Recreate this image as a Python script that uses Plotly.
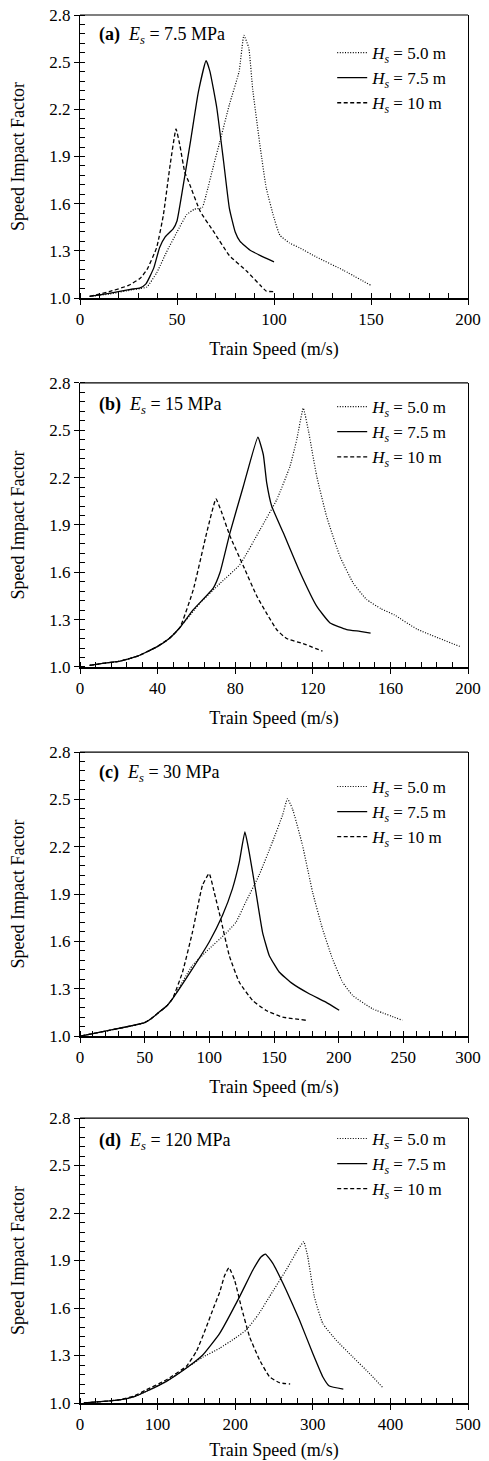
import plotly.graph_objects as go

# ---------------- data ----------------
# (a) Es = 7.5 MPa
a_x_h50 = [5, 15, 26, 31, 34.5, 39.5, 44.5, 50, 55, 59, 63, 65, 69, 72, 77, 82, 84.5, 87, 89, 93, 96, 100, 103, 108, 113, 122, 136, 150]
a_y_h50 = [1.01, 1.025, 1.05, 1.06, 1.07, 1.16, 1.29, 1.42, 1.53, 1.565, 1.575, 1.655, 1.85, 1.99, 2.23, 2.44, 2.67, 2.59, 2.33, 1.95, 1.70, 1.51, 1.40, 1.35, 1.32, 1.26, 1.175, 1.08]
a_x_h75 = [5, 15, 26, 31, 34, 38, 41, 44, 48, 50, 53, 57, 61, 65, 67, 70.5, 74, 77, 80, 82.5, 87.5, 93, 100]
a_y_h75 = [1.01, 1.03, 1.055, 1.065, 1.09, 1.19, 1.32, 1.39, 1.44, 1.49, 1.70, 2.00, 2.31, 2.51, 2.44, 2.21, 1.87, 1.57, 1.42, 1.36, 1.305, 1.27, 1.23]
a_x_h10 = [5, 15, 25, 31, 34.5, 39.5, 43, 46.5, 49.5, 51.5, 54, 56, 62, 69, 77, 86, 93, 96, 100]
a_y_h10 = [1.01, 1.04, 1.08, 1.125, 1.18, 1.32, 1.53, 1.85, 2.075, 1.97, 1.80, 1.74, 1.55, 1.42, 1.27, 1.17, 1.08, 1.044, 1.04]

# (b) Es = 15 MPa
b_x_h50 = [5, 10, 20, 30, 40, 46, 51.5, 61.9, 72.2, 82.5, 92.8, 101.4, 108.2, 111.7, 115.1, 117.7, 122, 127.1, 134, 140.9, 147.8, 155, 162, 173.7, 195.7]
b_y_h50 = [1.01, 1.02, 1.035, 1.07, 1.13, 1.18, 1.25, 1.405, 1.53, 1.65, 1.87, 2.06, 2.27, 2.44, 2.64, 2.50, 2.21, 1.955, 1.70, 1.53, 1.427, 1.37, 1.33, 1.24, 1.13]
b_x_h75 = [5, 10, 20, 30, 40, 46, 51.5, 58.4, 68.7, 72.2, 77.3, 84.2, 91.7, 94.5, 96.2, 98.8, 104.8, 113.4, 122, 128.9, 137.5, 144.3, 149.8]
b_y_h75 = [1.01, 1.02, 1.035, 1.07, 1.13, 1.18, 1.25, 1.363, 1.50, 1.60, 1.85, 2.145, 2.456, 2.345, 2.17, 2.02, 1.85, 1.60, 1.385, 1.279, 1.237, 1.226, 1.215]
b_x_h10 = [5, 10, 20, 30, 40, 46, 51.5, 58.4, 65.3, 70.1, 73, 77.3, 84.2, 91.1, 96.2, 101.4, 106.5, 115, 125]
b_y_h10 = [1.01, 1.02, 1.035, 1.07, 1.13, 1.18, 1.25, 1.49, 1.85, 2.065, 1.98, 1.83, 1.64, 1.45, 1.34, 1.236, 1.18, 1.148, 1.10]

# (c) Es = 30 MPa
c_x_h50 = [1, 10, 25, 40, 50, 55, 61, 67, 71.6, 87, 99.9, 112.7, 120.5, 128.2, 138.5, 148.8, 156.6, 160.4, 164.3, 172, 179.8, 187.5, 195.2, 203, 210.7, 226.1, 249.3]
c_y_h50 = [1.0, 1.015, 1.04, 1.065, 1.085, 1.11, 1.15, 1.19, 1.237, 1.448, 1.553, 1.65, 1.72, 1.85, 2.02, 2.23, 2.40, 2.504, 2.44, 2.21, 1.913, 1.68, 1.49, 1.342, 1.258, 1.173, 1.10]
c_x_h75 = [1, 10, 25, 40, 50, 55, 61, 67, 71.6, 87, 99.9, 110.2, 117.9, 123.1, 127.5, 130.8, 136, 141.1, 146.3, 154, 164.3, 177.2, 190.1, 200.4]
c_y_h75 = [1.0, 1.015, 1.04, 1.065, 1.085, 1.11, 1.15, 1.19, 1.237, 1.427, 1.596, 1.765, 1.934, 2.10, 2.293, 2.166, 1.913, 1.659, 1.511, 1.406, 1.332, 1.268, 1.215, 1.163]
c_x_h10 = [1, 10, 25, 40, 50, 55, 61, 67, 71.6, 79.3, 87, 94.7, 99.9, 103.8, 108.9, 115.4, 123.1, 133.4, 143.7, 156.6, 174.6]
c_y_h10 = [1.0, 1.015, 1.04, 1.065, 1.085, 1.11, 1.15, 1.19, 1.237, 1.406, 1.66, 1.955, 2.03, 1.91, 1.74, 1.51, 1.342, 1.226, 1.163, 1.12, 1.10]

# (d) Es = 120 MPa
d_x_h50 = [5, 30, 51.4, 70, 85.7, 111.4, 137.1, 158.5, 180, 200, 214.2, 230, 244.2, 265.6, 280.6, 288.3, 293.5, 302, 312.8, 329.9, 351.3, 372.8, 389.9]
d_y_h50 = [1.0, 1.01, 1.02, 1.04, 1.074, 1.137, 1.221, 1.29, 1.346, 1.41, 1.461, 1.56, 1.672, 1.84, 1.967, 2.019, 1.924, 1.672, 1.503, 1.398, 1.292, 1.188, 1.099]
d_x_h75 = [5, 30, 51.4, 70, 85.7, 111.4, 137.1, 158.5, 180, 205.7, 222.8, 233.5, 239, 248.5, 265.6, 282.8, 299.9, 312.8, 321.3, 339.3]
d_y_h75 = [1.0, 1.01, 1.02, 1.04, 1.074, 1.137, 1.221, 1.305, 1.44, 1.672, 1.84, 1.924, 1.941, 1.882, 1.714, 1.524, 1.314, 1.166, 1.107, 1.088]
d_x_h10 = [5, 30, 51.4, 70, 85.7, 111.4, 137.1, 150, 162.8, 172, 180, 186, 191.9, 199.2, 207.8, 218.5, 231.4, 244.2, 257.1, 270.8]
d_y_h10 = [1.0, 1.01, 1.021, 1.045, 1.084, 1.147, 1.232, 1.326, 1.48, 1.60, 1.70, 1.80, 1.855, 1.777, 1.608, 1.419, 1.272, 1.166, 1.128, 1.12]

panel_labels = ["(a)", "(b)", "(c)", "(d)"]
panel_es = ["7.5", "15", "30", "120"]
series_names = ["<i>H<sub>s</sub></i> = 5.0 m", "<i>H<sub>s</sub></i> = 7.5 m", "<i>H<sub>s</sub></i> = 10 m"]
x_max = [200, 200, 300, 500]
x_major = [50, 40, 50, 100]
x_minor = [10, 8, 10, 20]
y_range = [1.0, 2.8]
y_major = 0.3
y_minor = 0.06

panel_data = [
    [(a_x_h50, a_y_h50), (a_x_h75, a_y_h75), (a_x_h10, a_y_h10)],
    [(b_x_h50, b_y_h50), (b_x_h75, b_y_h75), (b_x_h10, b_y_h10)],
    [(c_x_h50, c_y_h50), (c_x_h75, c_y_h75), (c_x_h10, c_y_h10)],
    [(d_x_h50, d_y_h50), (d_x_h75, d_y_h75), (d_x_h10, d_y_h10)],
]

# ---------------- layout geometry ----------------
# page body has an 8px margin, so the figure is sized/offset to compensate
W, H = 481, 1453
M_L, M_R, M_T, M_B = 72, 21, 7, 58
domains = [[0.7961, 1.0], [0.5303, 0.7349], [0.2644, 0.4690], [0.0, 0.2053]]
legend_y = [0.9856, 0.7305, 0.4568, 0.2032]
label_y = [0.929, 0.919, 0.926, 0.916]
legend_x = 0.650

FONT = "Liberation Serif"
dash_styles = ["1px,1.6px", "solid", "4px,2.5px"]
widths = [1.2, 1.3, 1.3]

fig = go.Figure()
for p in range(4):
    xa = "x" if p == 0 else f"x{p+1}"
    ya = "y" if p == 0 else f"y{p+1}"
    lg = "legend" if p == 0 else f"legend{p+1}"
    for s, (xs, ys) in enumerate(panel_data[p]):
        fig.add_trace(go.Scatter(
            x=xs, y=ys, mode="lines", name=series_names[s],
            line=dict(color="black", width=widths[s], dash=dash_styles[s], shape="spline", smoothing=0.4),
            xaxis=xa, yaxis=ya, legend=lg, showlegend=True))

layout = dict(
    width=W, height=H,
    margin=dict(l=M_L, r=M_R, t=M_T, b=M_B),
    paper_bgcolor="white", plot_bgcolor="white",
    font=dict(family=FONT, size=17, color="black"),
    annotations=[], shapes=[],
)

for p in range(4):
    n = "" if p == 0 else str(p + 1)
    xk, yk = f"xaxis{n}", f"yaxis{n}"
    xa, ya = f"x{n}", f"y{n}"
    layout[xk] = dict(
        domain=[0, 1], anchor=ya, range=[0, x_max[p]], dtick=x_major[p], tick0=0,
        ticks="outside", ticklen=5, tickwidth=1, tickcolor="black",
        showline=True, linewidth=2, linecolor="black", mirror=False,
        showgrid=False, zeroline=False, ticklabeloverflow="allow",
        tickfont=dict(family=FONT, size=17),
        title=dict(text="Train Speed (m/s)", font=dict(family=FONT, size=18), standoff=14),
        minor=dict(dtick=x_minor[p], tick0=0, ticks="inside", ticklen=5, tickwidth=1, tickcolor="black", showgrid=False),
        automargin=False,
    )
    layout[yk] = dict(
        domain=domains[p], anchor=xa, range=y_range, dtick=y_major, tick0=1.0,
        tickformat=".1f",
        ticks="outside", ticklen=5, tickwidth=1, tickcolor="black",
        showline=True, linewidth=1.3, linecolor="black", mirror=True,
        showgrid=False, zeroline=False, ticklabeloverflow="allow",
        tickfont=dict(family=FONT, size=17),
        title=dict(text="Speed Impact Factor", font=dict(family=FONT, size=18), standoff=20),
        minor=dict(dtick=y_minor, tick0=1.0, ticks="inside", ticklen=5, tickwidth=1, tickcolor="black", showgrid=False),
        automargin=False,
    )
    # overlay axes to give major ticks their inside half (ticks cross the axis)
    m = str(p + 5)
    layout[f"xaxis{m}"] = dict(
        overlaying=xa, anchor=ya, side="bottom", range=[0, x_max[p]], dtick=x_major[p], tick0=0,
        ticks="inside", ticklen=5, tickwidth=1, tickcolor="black",
        showticklabels=False, showline=False, showgrid=False, zeroline=False)
    layout[f"yaxis{m}"] = dict(
        overlaying=ya, anchor=xa, side="left", range=y_range, dtick=y_major, tick0=1.0,
        ticks="inside", ticklen=5, tickwidth=1, tickcolor="black",
        showticklabels=False, showline=False, showgrid=False, zeroline=False)
    # top border
    layout["shapes"].append(dict(type="line", xref=f"{xa} domain", yref=f"{ya} domain",
                                 x0=0, x1=1, y0=1, y1=1, line=dict(color="black", width=1.2)))
    # panel label
    layout["annotations"].append(dict(
        xref=f"{xa} domain", yref=f"{ya} domain", x=0.044, y=label_y[p],
        xanchor="left", yanchor="middle", showarrow=False,
        text=f"<b>{panel_labels[p]}</b>\u00a0\u00a0<i>E<sub>s</sub></i> = {panel_es[p]} MPa",
        font=dict(family=FONT, size=18, color="black")))
    lg = "legend" if p == 0 else f"legend{p+1}"
    layout[lg] = dict(
        x=legend_x, y=legend_y[p], xanchor="left", yanchor="top",
        xref="paper", yref="paper",
        bgcolor="rgba(0,0,0,0)", borderwidth=0,
        font=dict(family=FONT, size=17, color="black"),
        tracegroupgap=0, traceorder="normal")

fig.update_layout(**layout)
fig.write_html("out.html")
